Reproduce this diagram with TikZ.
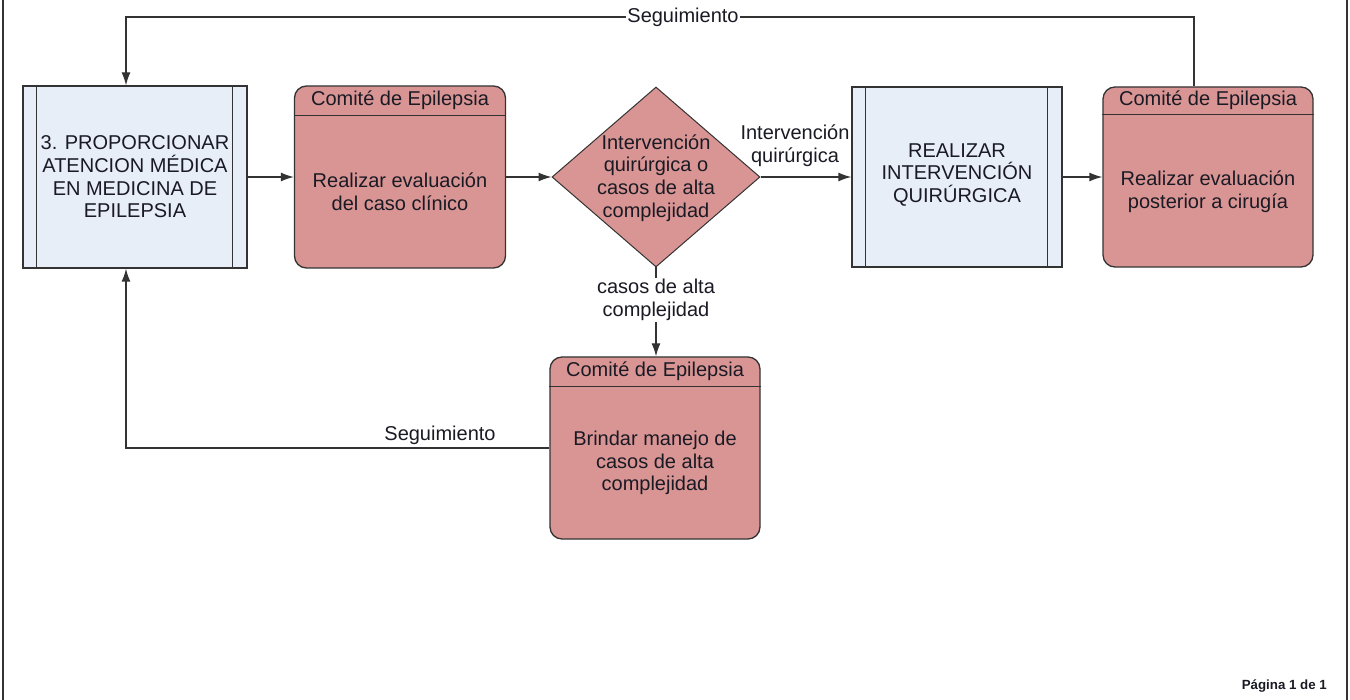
\documentclass[tikz,border=0pt]{standalone}
\usepackage{fontspec}
\setmainfont{Liberation Sans}
\usetikzlibrary{arrows.meta,shapes.geometric}
\definecolor{pinkfill}{HTML}{D99594}
\definecolor{bluefill}{HTML}{E8EEF7}
\definecolor{edge}{HTML}{333333}
\definecolor{ink}{HTML}{1A1A24}
\tikzset{
  bigtxt/.style={font=\fontsize{20}{22.6}\selectfont, text=ink, align=center, inner sep=1pt},
  procbox/.style={draw=edge, line width=1.3pt, fill=bluefill, minimum width=224pt, minimum height=182pt, inner sep=0pt},
  subproc/.style={procbox, minimum width=210pt, minimum height=180pt},
  committee/.style={draw=edge, line width=1.3pt, fill=pinkfill, rounded corners=12pt, minimum width=211pt, minimum height=182pt, inner sep=0pt},
  decision/.style={diamond, draw=edge, line width=1pt, fill=pinkfill, minimum width=208pt, minimum height=180pt, inner sep=0pt},
  conn/.style={draw=edge, line width=1.3pt, -{Latex[length=13pt,width=9pt]}},
  lab/.style={bigtxt, fill=white, inner sep=1pt}
}
\begin{document}
\begin{tikzpicture}[x=1pt,y=-1pt]
\useasboundingbox (0,0) rectangle (1350,700);
% page frame
\draw[line width=1.8pt, edge] (3,0) -- (3,700);
\draw[line width=1.8pt, edge] (1347,0) -- (1347,700);

% A: predefined process
\node[procbox] (A) at (135,177) {};
\draw[edge, line width=1.3pt] ([xshift=14pt]A.north west) -- ([xshift=14pt]A.south west);
\draw[edge, line width=1.3pt] ([xshift=-15pt]A.north east) -- ([xshift=-15pt]A.south east);
\node[bigtxt] (At) at (135,177) {3. PROPORCIONAR\\ATENCION MÉDICA\\EN MEDICINA DE\\EPILEPSIA};

% B: committee
\node[committee] (B) at (400,177) {};
\draw[edge, line width=1.3pt] ([yshift=-30pt]B.north west) -- ([yshift=-30pt]B.north east);
\node[bigtxt] (Bh) at ([yshift=-15pt]B.north) {Comité de Epilepsia};
\node[bigtxt] (Bb) at ([yshift=-15pt]B.center) {Realizar evaluación\\del caso clínico};

% D: predefined process
\node[subproc] (D) at (957,177) {};
\draw[edge, line width=1.3pt] ([xshift=14pt]D.north west) -- ([xshift=14pt]D.south west);
\draw[edge, line width=1.3pt] ([xshift=-15pt]D.north east) -- ([xshift=-15pt]D.south east);
\node[bigtxt] (Dt) at (957,175) {REALIZAR\\INTERVENCIÓN\\QUIRÚRGICA};

% label that hides part of D's left edge
\node[lab] (Lq) at (795,146) {Intervención\\quirúrgica};

% C: decision
\node[decision] (C) at (656,177) {};
\node[bigtxt] (Ct) at (656,178) {Intervención\\quirúrgica o\\casos de alta\\complejidad};

% E: committee
\node[committee, minimum width=210pt, minimum height=180pt] (E) at (1208,177) {};
\draw[edge, line width=1.3pt] ([yshift=-28pt]E.north west) -- ([yshift=-28pt]E.north east);
\node[bigtxt] (Eh) at ([yshift=-14pt]E.north) {Comité de Epilepsia};
\node[bigtxt] (Eb) at ([yshift=-15pt]E.center) {Realizar evaluación\\posterior a cirugía};

% F: committee
\node[committee, minimum width=210pt] (F) at (655,448) {};
\draw[edge, line width=1.3pt] ([yshift=-30pt]F.north west) -- ([yshift=-30pt]F.north east);
\node[bigtxt] (Fh) at ([yshift=-15pt]F.north) {Comité de Epilepsia};
\node[bigtxt] (Fb) at ([yshift=-15pt]F.center) {Brindar manejo de\\casos de alta\\complejidad};

% connectors
\draw[conn] (A.east) -- (B.west);
\draw[conn] (B.east) -- (C.west);
\draw[conn] (C.east) -- (D.west);
\draw[conn] (D.east) -- (E.west);

\coordinate (cb) at (656,357);
\draw[conn] (C.south) -- (F.north -| cb);
\node[lab] (Lc) at (656,300) {casos de alta\\complejidad};

\coordinate (topR) at (1194,17);
\coordinate (topL) at (126,17);
\draw[conn] (E.north -| topR) -- (topR) -- (topL) -- (A.north -| topL);
\node[lab] (Ls1) at (683,17) {Seguimiento};

\coordinate (botL) at (126,448);
\draw[conn] (F.west) -- (botL) -- (A.south -| botL);
\node[bigtxt] (Ls2) at (440,435) {Seguimiento};

\node[font=\fontsize{13.3}{15}\selectfont\bfseries, text=ink, anchor=east, inner sep=0pt] (pg) at (1327,686) {Página 1 de 1};
\end{tikzpicture}
\end{document}
